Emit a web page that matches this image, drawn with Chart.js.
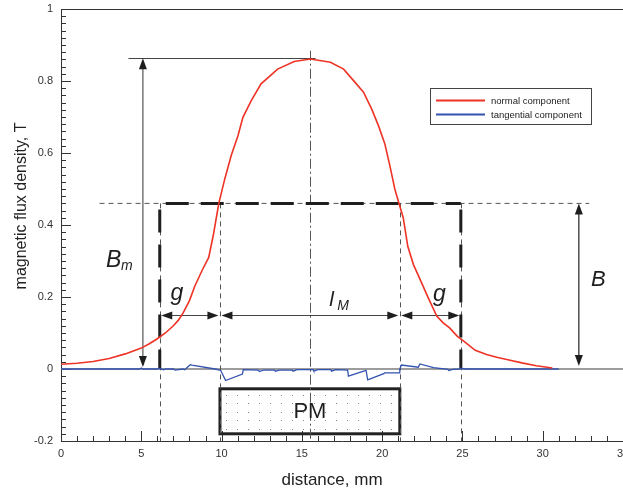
<!DOCTYPE html>
<html><head><meta charset="utf-8">
<script src="https://cdn.jsdelivr.net/npm/chart.js@4.4.1/dist/chart.umd.min.js"></script>
<style>html,body{margin:0;padding:0;background:#fff}#wrap{width:623px;height:490px;position:relative}</style>
</head><body><div id="wrap"><canvas id="c" width="623" height="490"></canvas></div>
<script>
// ---- data (mm, T) ----
const redX = [0,1,2,3,4,5,5.5,6,6.5,7,7.3,7.6,8.0,8.35,8.8,9.2,9.5,9.83,10.2,10.6,11.02,11.33,11.84,12.46,13.49,14.52,15.54,16.78,17.6,18.22,18.84,19.35,19.77,20.17,20.48,20.79,21.04,21.31,21.6,21.95,22.3,22.9,23.4,23.8,24.2,24.7,25.0,25.8,26.5,27.2,27.9,28.7,29.6,30.6];
const redY = [0.013,0.016,0.021,0.029,0.042,0.058,0.070,0.084,0.100,0.120,0.135,0.155,0.19,0.232,0.275,0.31,0.375,0.461,0.528,0.593,0.648,0.699,0.745,0.792,0.833,0.854,0.861,0.852,0.833,0.801,0.769,0.722,0.676,0.625,0.565,0.5,0.461,0.421,0.34,0.29,0.255,0.195,0.147,0.128,0.114,0.09,0.08,0.052,0.04,0.032,0.025,0.017,0.009,0.003];
const blueX = [0,4.9,5.0,5.1,6.0,6.1,6.4,6.5,7.0,7.1,7.6,7.7,8.05,8.15,9.6,9.95,10.25,11.3,11.35,12.3,12.35,12.6,13.3,13.35,13.6,14.4,14.45,14.7,15.7,15.75,16.0,16.8,16.85,17.1,17.85,17.9,18.9,19.0,19.1,20.1,20.15,21.05,21.1,21.2,22.25,22.35,23.2,24.1,24.15,24.4,24.8,24.85,25.2,26.0,31.0];
const blueY = [0,0,0.003,0,0,0.002,-0.002,0,0,-0.003,0,-0.002,0.012,0.011,0.0,-0.004,-0.032,-0.014,-0.002,-0.003,-0.007,-0.003,-0.003,-0.006,-0.003,-0.003,-0.006,-0.002,-0.002,-0.006,-0.002,-0.002,-0.006,-0.002,-0.003,-0.02,-0.005,-0.004,-0.03,-0.013,-0.011,-0.011,0.0,0.011,0.005,0.014,0.004,-0.001,-0.004,-0.001,0,0.002,0,0,0];
const seriesNames = ['normal component','tangential component'];
const seriesColors = ['#ee3326','#3352b0'];
const xAxisTitle = 'distance, mm';
const yAxisTitle = 'magnetic flux density, T';
const xRange = [0, 35], xStep = 5, xMinor = 1;
const yRange = [-0.2, 1], yStep = 0.2, yMinor = 0.02;

// ---- annotation values (data units) ----
const peakX = 15.5, peakB = 0.863, airB = 0.46;
const gapStart = 6.15, magStart = 9.9, magEnd = 21.1, gapEnd = 24.9;
const bmArrowX = 5.1, bmLineStart = 4.2, bmLineEnd = 15.85;
const bArrowX = 32.25, refLineStart = 2.4, refLineEnd = 32.9;
const dimY = 0.15, centerTop = 0.884;
const pmTop = -0.055, pmBottom = -0.18;
const labelBm = {x: 2.8, y: 0.283}, labelG1 = {x: 7.21, y: 0.193}, labelG2 = {x: 23.57, y: 0.19};
const labelLM = {x: 16.7, y: 0.175}, labelB = {x: 33.0, y: 0.231};

const FONT = "'Liberation Sans', Arial, sans-serif";

function arrowHead(ctx, x, y, dir, len = 11, hw = 4) {
  ctx.beginPath();
  ctx.moveTo(x, y);
  if (dir === 'left') { ctx.lineTo(x + len, y - hw); ctx.lineTo(x + len, y + hw); }
  if (dir === 'right') { ctx.lineTo(x - len, y - hw); ctx.lineTo(x - len, y + hw); }
  if (dir === 'up') { ctx.lineTo(x - hw, y + len); ctx.lineTo(x + hw, y + len); }
  if (dir === 'down') { ctx.lineTo(x - hw, y - len); ctx.lineTo(x + hw, y - len); }
  ctx.closePath();
  ctx.fill();
}
function line(ctx, x1, y1, x2, y2) { ctx.beginPath(); ctx.moveTo(x1, y1); ctx.lineTo(x2, y2); ctx.stroke(); }
function fmtTick(v) {
  if (Math.abs(v) < 1e-9) return '0';
  return String(+Number(v).toFixed(1));
}

const annot = {
  id: 'annot',
  beforeDatasetsDraw(chart) {
    const ctx = chart.ctx, xs = chart.scales.x, ys = chart.scales.y, a = chart.chartArea;
    const X = v => xs.getPixelForValue(v), Y = v => ys.getPixelForValue(v);
    ctx.save();
    // frame top
    ctx.strokeStyle = '#333'; ctx.lineWidth = 1;
    line(ctx, a.left, Math.round(a.top) + 0.5, a.right, Math.round(a.top) + 0.5);
    // inward ticks
    ctx.strokeStyle = '#333'; ctx.lineWidth = 1;
    for (let k = Math.round(xRange[0] / xMinor); k <= Math.round(xRange[1] / xMinor); k++) {
      const v = k * xMinor, px = Math.round(X(v)) + 0.5;
      const len = (Math.abs(v / xStep - Math.round(v / xStep)) < 1e-6) ? 10 : 5;
      line(ctx, px, a.bottom, px, a.bottom - len);
    }
    for (let k = Math.round(yRange[0] / yMinor); k <= Math.round(yRange[1] / yMinor); k++) {
      const v = k * yMinor, py = Math.round(Y(v)) + 0.5;
      const len = (Math.abs(v / yStep - Math.round(v / yStep)) < 1e-6) ? 10 : 5;
      line(ctx, a.left, py, a.left + len, py);
    }
    // zero line
    ctx.strokeStyle = '#7d7d7d'; ctx.lineWidth = 1.5;
    line(ctx, a.left, Y(0), a.right, Y(0));
    // PM box
    const bx1 = X(magStart), bx2 = X(magEnd), by1 = Y(pmTop), by2 = Y(pmBottom);
    ctx.fillStyle = '#888';
    for (let yy = by1 + 6; yy < by2 - 2; yy += 8.5)
      for (let xx = bx1 + 6; xx < bx2 - 2; xx += 11) ctx.fillRect(Math.round(xx), Math.round(yy), 1, 1);
    ctx.strokeStyle = '#222'; ctx.lineWidth = 3;
    ctx.strokeRect(bx1, by1, bx2 - bx1, by2 - by1);
    // thin dashed lines
    ctx.strokeStyle = '#555'; ctx.lineWidth = 1; ctx.setLineDash([5, 4]);
    line(ctx, X(refLineStart), Y(airB), X(refLineEnd), Y(airB));
    [gapStart, magStart, magEnd, gapEnd].forEach(v => line(ctx, Math.round(X(v)) + 0.5, Y(airB), Math.round(X(v)) + 0.5, a.bottom));
    // center dash-dot
    ctx.setLineDash([10, 3, 2, 3]);
    line(ctx, Math.round(X(peakX)) + 0.5, Y(centerTop), Math.round(X(peakX)) + 0.5, a.bottom);
    // thick dashed rectangle
    ctx.strokeStyle = '#1e1e1e'; ctx.lineWidth = 3; ctx.setLineDash([23, 12]); ctx.lineDashOffset = 29;
    line(ctx, X(gapStart), Y(airB), X(gapEnd), Y(airB));
    line(ctx, X(gapStart), Y(airB), X(gapStart), Y(0));
    line(ctx, X(gapEnd), Y(airB), X(gapEnd), Y(0));
    ctx.setLineDash([]); ctx.lineDashOffset = 0;
    // Bm dimension
    ctx.strokeStyle = '#444'; ctx.lineWidth = 1;
    line(ctx, X(bmLineStart), Math.round(Y(peakB)) + 0.5, X(bmLineEnd), Math.round(Y(peakB)) + 0.5);
    ctx.strokeStyle = '#555'; ctx.lineWidth = 1.2;
    line(ctx, X(bmArrowX), Y(peakB) + 4, X(bmArrowX), Y(0) - 4);
    ctx.fillStyle = '#1e1e1e';
    arrowHead(ctx, X(bmArrowX), Y(peakB), 'up');
    arrowHead(ctx, X(bmArrowX), Y(0) - 2, 'down');
    // B dimension
    ctx.strokeStyle = '#222'; ctx.lineWidth = 1.2;
    line(ctx, X(bArrowX), Y(airB) + 4, X(bArrowX), Y(0) - 6);
    arrowHead(ctx, X(bArrowX), Y(airB), 'up');
    arrowHead(ctx, X(bArrowX), Y(0) - 3, 'down');
    // g / lM dimension arrows
    ctx.strokeStyle = '#444'; ctx.lineWidth = 1;
    const dy = Math.round(Y(dimY)) + 0.5;
    [[gapStart, magStart], [magStart, magEnd], [magEnd, gapEnd]].forEach(([s, e]) => {
      const x1 = X(s) + 1.5, x2 = X(e) - 1.5;
      line(ctx, x1 + 4, dy, x2 - 4, dy);
      arrowHead(ctx, x1, dy, 'left');
      arrowHead(ctx, x2, dy, 'right');
    });
    ctx.restore();
  },
  afterDraw(chart) {
    const ctx = chart.ctx, xs = chart.scales.x, ys = chart.scales.y;
    const X = v => xs.getPixelForValue(v), Y = v => ys.getPixelForValue(v);
    ctx.save();
    ctx.fillStyle = '#1e1e1e'; ctx.textBaseline = 'alphabetic'; ctx.textAlign = 'left';
    // B_m
    ctx.font = `italic 23px ${FONT}`;
    ctx.fillText('B', X(labelBm.x), Y(labelBm.y));
    ctx.font = `italic 14px ${FONT}`;
    ctx.fillText('m', X(labelBm.x) + 15, Y(labelBm.y) + 3);
    // g
    ctx.font = `italic 23px ${FONT}`;
    ctx.textAlign = 'center';
    ctx.fillText('g', X(labelG1.x), Y(labelG1.y));
    ctx.fillText('g', X(labelG2.x), Y(labelG2.y));
    // l_M
    ctx.textAlign = 'left';
    ctx.font = `italic 21px ${FONT}`;
    ctx.fillText('l', X(labelLM.x), Y(labelLM.y));
    ctx.font = `italic 14px ${FONT}`;
    ctx.fillText('M', X(labelLM.x) + 8, Y(labelLM.y) + 4);
    // B
    ctx.font = `italic 22px ${FONT}`;
    ctx.fillText('B', X(labelB.x), Y(labelB.y));
    // PM
    ctx.font = `22px ${FONT}`; ctx.textAlign = 'center'; ctx.textBaseline = 'middle';
    ctx.fillText('PM', (X(magStart) + X(magEnd)) / 2, (Y(pmTop) + Y(pmBottom)) / 2 + 1);
    // axis titles
    ctx.fillStyle = '#222'; ctx.textBaseline = 'alphabetic';
    ctx.font = `17px ${FONT}`;
    ctx.fillText(xAxisTitle, 332, 485);
    ctx.save();
    ctx.translate(26, 206); ctx.rotate(-Math.PI / 2);
    ctx.font = `16px ${FONT}`;
    ctx.fillText(yAxisTitle, 0, 0);
    ctx.restore();
    // legend
    ctx.strokeStyle = '#444'; ctx.lineWidth = 1;
    ctx.strokeRect(430.5, 88.5, 161, 36);
    chart.data.datasets.forEach((ds, i) => {
      const ly = 100.5 + i * 14;
      ctx.strokeStyle = ds.borderColor; ctx.lineWidth = 1.8;
      line(ctx, 436, ly, 485, ly);
      ctx.fillStyle = '#222'; ctx.font = `9.5px ${FONT}`; ctx.textAlign = 'left'; ctx.textBaseline = 'middle';
      ctx.fillText(ds.label, 491, ly + 0.5);
    });
    ctx.restore();
  }
};

const tickFont = {family: FONT, size: 11};
new Chart(document.getElementById('c'), {
  type: 'scatter',
  data: {
    datasets: [
      {label: seriesNames[0], data: redX.map((x, i) => ({x, y: redY[i]})), borderColor: seriesColors[0], borderWidth: 1.6, showLine: true, pointRadius: 0, tension: 0, fill: false},
      {label: seriesNames[1], data: blueX.map((x, i) => ({x, y: blueY[i]})), borderColor: seriesColors[1], borderWidth: 1.3, showLine: true, pointRadius: 0, tension: 0, fill: false}
    ]
  },
  options: {
    responsive: false, animation: false, devicePixelRatio: 1,
    layout: {padding: {top: 9, left: 0, right: -6, bottom: 0}},
    plugins: {legend: {display: false}, tooltip: {enabled: false}},
    scales: {
      x: {type: 'linear', min: xRange[0], max: xRange[1],
        ticks: {stepSize: xStep, padding: 6, font: tickFont, color: '#333', maxRotation: 0, autoSkip: false, callback: fmtTick},
        grid: {drawOnChartArea: false, drawTicks: false}, border: {display: true, color: '#333', width: 1},
        afterFit(s) { s.height = 49; s.paddingLeft = 0; s.paddingRight = -6; s.paddingTop = 0; s.paddingBottom = 0; }},
      y: {type: 'linear', min: yRange[0], max: yRange[1],
        ticks: {stepSize: yStep, padding: 8, font: tickFont, color: '#333', autoSkip: false, callback: fmtTick},
        grid: {drawOnChartArea: false, drawTicks: false}, border: {display: true, color: '#333', width: 1},
        afterFit(s) { s.width = 61; s.paddingTop = 0; s.paddingBottom = 0; s.paddingLeft = 0; s.paddingRight = -6; }}
    }
  },
  plugins: [annot]
});
</script></body></html>
